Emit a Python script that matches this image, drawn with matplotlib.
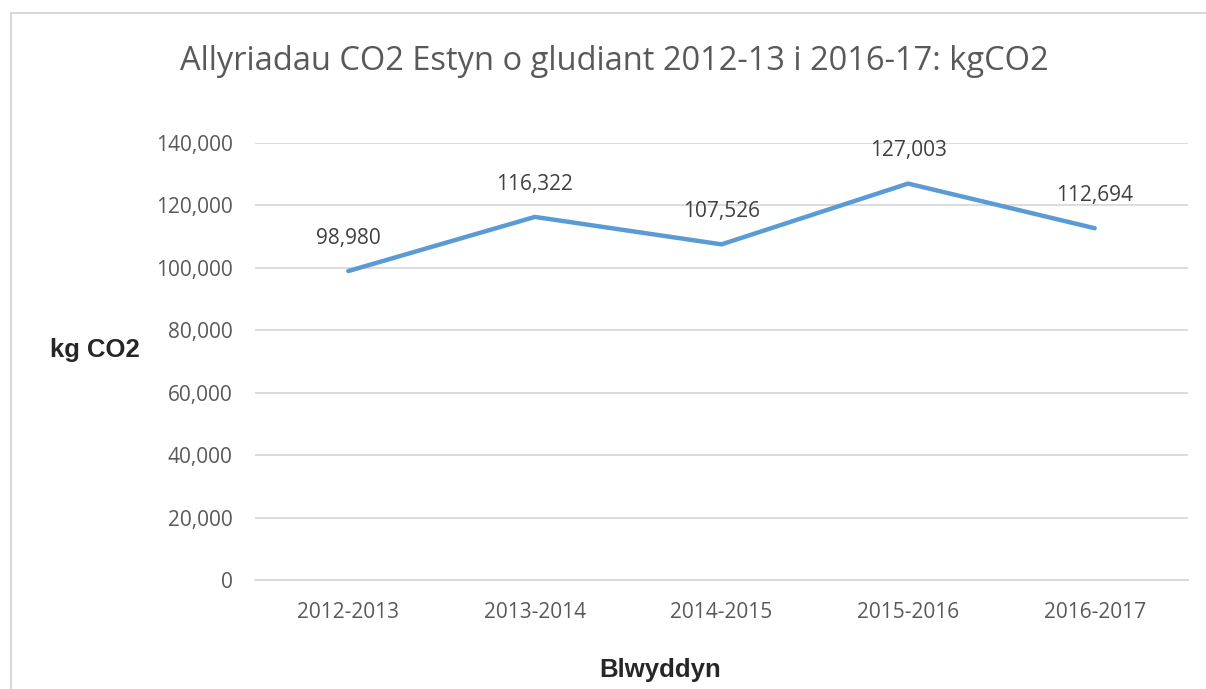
import matplotlib.pyplot as plt
from matplotlib.patches import Rectangle
from matplotlib.ticker import FuncFormatter

years = ["2012-2013", "2013-2014", "2014-2015", "2015-2016", "2016-2017"]
co2 = [98980, 116322, 107526, 127003, 112694]
yticks = [0, 20000, 40000, 60000, 80000, 100000, 120000, 140000]

fig = plt.figure(figsize=(12.06, 6.89), dpi=100)
ax = fig.add_axes([255/1206, 1-580/689, (1188-255)/1206, (580-143)/689])

# outer chart border
fig.patches.append(Rectangle((11/1206, -0.05), 1.2, 1-13/689+0.05, transform=fig.transFigure,
                             fill=False, edgecolor='#d9d9d9', linewidth=1.5))

x = list(range(len(years)))
ax.plot(x, co2, color='#5b9bd5', linewidth=3.2, solid_capstyle='round', zorder=3)
for xi, v in zip(x, co2):
    ax.annotate(f"{v:,}", (xi, v), xytext=(0, 23.5), textcoords='offset points',
                ha='center', va='center', fontsize=15, color='#404040', family='Open Sans')

ax.set_xlim(-0.5, len(years)-0.5)
ax.set_ylim(0, 140000)
ax.set_yticks(yticks)
ax.yaxis.set_major_formatter(FuncFormatter(lambda v, p: f"{int(v):,}"))
ax.set_xticks(x)
ax.set_xticklabels(years)
ax.grid(axis='y', color='#d9d9d9', linewidth=1.3)
ax.set_axisbelow(True)
for s in ['top', 'right', 'left']:
    ax.spines[s].set_visible(False)
ax.spines['bottom'].set_color('#d9d9d9')
ax.spines['bottom'].set_linewidth(1.3)
ax.tick_params(length=0, labelsize=15, colors='#595959')
ax.tick_params(axis='y', pad=16)
ax.tick_params(axis='x', pad=16)
for lab in ax.get_xticklabels() + ax.get_yticklabels():
    lab.set_family('Open Sans')

fig.text(614/1206, 1-62/689, "Allyriadau CO2 Estyn o gludiant 2012-13 i 2016-17: kgCO2",
         ha='center', va='center', fontsize=23.5, color='#595959', family='Open Sans')
fig.text(95/1206, 1-350/689, "kg CO2", ha='center', va='center', fontsize=18.5,
         fontweight='bold', color='#262626', family='Liberation Sans')
fig.text(660/1206, 1-670/689, "Blwyddyn", ha='center', va='center', fontsize=18.5,
         fontweight='bold', color='#262626', family='Liberation Sans')

fig.savefig("out.png", dpi=100)
